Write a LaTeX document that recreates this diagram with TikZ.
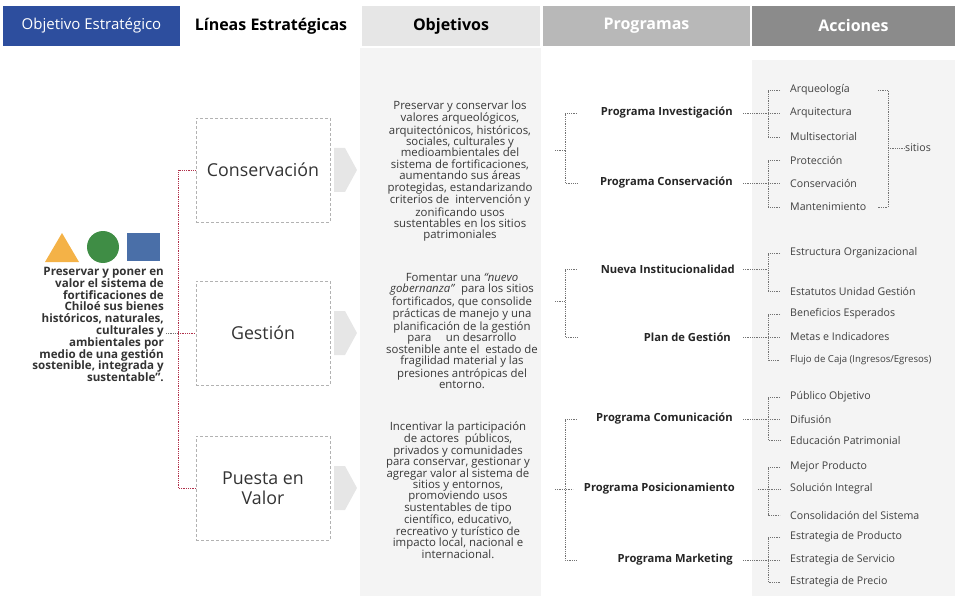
\documentclass[tikz,border=0pt]{standalone}
\usepackage{fontspec}
\setmainfont{Open Sans}
\usetikzlibrary{positioning}
\definecolor{azul}{HTML}{2D4E9E}
\definecolor{naranja}{HTML}{F4B247}
\definecolor{verde}{HTML}{3F8D45}
\definecolor{azulcuadro}{HTML}{4A6FA8}
\definecolor{grisA}{HTML}{E6E6E6}
\definecolor{grisB}{HTML}{B8B8B8}
\definecolor{grisC}{HTML}{8B8B8B}
\definecolor{fondo}{HTML}{F4F4F4}
\definecolor{rojo}{HTML}{B0304A}

\begin{document}
\begin{tikzpicture}[x=1pt,y=-1pt,
  head/.style={minimum width=#1, minimum height=40pt, inner sep=0pt, font=\fontsize{15}{16}\selectfont},
  linea/.style={draw=gray!60, densely dashed, thick, minimum width=134pt, minimum height=104pt,
                font=\fontsize{17.8}{20}\selectfont, text=black!80, align=center},
  obj/.style={align=center, inner sep=0pt, font=\fontsize{11.4}{11.4}\selectfont, text=black!78},
  prog/.style={anchor=east, inner sep=0pt, font=\bfseries\fontsize{11.2}{12}\selectfont, text=black!85},
  acc/.style={anchor=west, inner sep=0pt, font=\fontsize{10.6}{11}\selectfont, text=black!75},
  brk/.style={densely dotted, thick, black!55},
  roja/.style={densely dotted, thick, rojo}]
  \useasboundingbox (0,0) rectangle (955,596);

  % fondos de columna
  \fill[fondo] (360,48) rectangle (541,596);
  \fill[fondo] (752,60) rectangle (955,596);

  % cabecera
  \node[head=177, fill=azul, text=white] (h1) at (91.5,26) {Objetivo Estratégico};
  \node[head=178, fill=white, font=\bfseries\fontsize{16}{17}\selectfont] (h2) at (271,26) {Líneas Estratégicas};
  \node[head=178, fill=grisA, font=\bfseries\fontsize{16}{17}\selectfont] (h3) at (451,26) {Objetivos};
  \node[head=207, fill=grisB, text=white, font=\bfseries\fontsize{16}{17}\selectfont] (h4) at (646.5,26) {Programas};
  \node[head=203, fill=grisC, text=white, font=\bfseries\fontsize{16}{17}\selectfont] (h5) at (853.5,26) {Acciones};

  % objetivo estrategico
  \fill[naranja] (45,262) -- (62,233) -- (79,262) -- cycle;
  \fill[verde] (103,247) circle (16);
  \fill[azulcuadro] (127,233) rectangle (160,261);
  \node[anchor=north east, align=right, inner sep=0pt, text=black!80,
        font=\bfseries\fontsize{11.6}{11.8}\selectfont] (estr) at (164,267)
    {Preservar y poner en\\ valor el sistema de\\ fortificaciones de\\ Chiloé sus bienes\\
     históricos, naturales,\\ culturales y\\ ambientales por\\ medio de una gestión\\
     sostenible, integrada y\\ sustentable”.};

  % lineas estrategicas
  \node[linea] (cons)   at (263,170) {Conservación};
  \node[linea] (gest)   at (263,333) {Gestión};
  \node[linea] (puesta) at (263,488) {Puesta en\\ Valor};

  \coordinate (rx) at (178,0);
  \draw[roja] (cons.west) -| (rx |- puesta) -- (puesta.west);
  \draw[roja] (rx |- gest) -- (gest.west);
  \draw[brk] ([xshift=2pt]estr.east |- gest) -- (rx |- gest);

  % flechas
  \foreach \y in {170,333,488}
    \fill[grisA] (334,\y-22) -- (345,\y-22) -- (357,\y) -- (345,\y+22) -- (334,\y+22) -- cycle;

  % objetivos
  \node[obj] (obj1) at (460,171)
    {Preservar y conservar los\\ valores arqueológicos,\\ arquitectónicos, históricos,\\ sociales, culturales y\\
     medioambientales del\\ sistema de fortificaciones,\\ aumentando sus áreas\\ protegidas, estandarizando\\
     criterios de \ intervención y\\ zonificando usos\\ sustentables en los sitios\\ patrimoniales};
  \node[obj] (obj2) at (462,331)
    {Fomentar una \textit{“nuevo}\\ \textit{gobernanza”} \ para los sitios\\ fortificados, que consolide\\
     prácticas de manejo y una\\ planificación de la gestión\\ para \quad un desarrollo\\
     sostenible ante el \ estado de\\ fragilidad material y las\\ presiones antrópicas del\\ entorno.};
  \node[obj] (obj3) at (458,490)
    {Incentivar la participación\\ de actores \ públicos,\\ privados y comunidades\\ para conservar, gestionar y\\
     agregar valor al sistema de\\ sitios y entornos,\\ promoviendo usos\\ sustentables de tipo\\
     científico, educativo,\\ recreativo y turístico de\\ impacto local, nacional e\\ internacional.};

  % programas
  \node[prog] (pinv) at (733,113) {Programa Investigación};
  \node[prog] (pcon) at (733,183) {Programa Conservación};
  \node[prog] (pni)  at (735,269) {Nueva Institucionalidad};
  \node[prog] (pges) at (731,337) {Plan de Gestión};
  \node[prog] (pcom) at (733,419) {Programa Comunicación};
  \node[prog] (ppos) at (735,489) {Programa Posicionamiento};
  \node[prog] (pmar) at (733,560) {Programa Marketing};

  \coordinate (bx) at (565,0);
  \draw[brk] (bx |- pinv) ++(12,0) -- (bx |- pinv) -- (bx |- pcon) -- ++(12,0);
  \draw[brk] (bx |- 0,150) ++(-10,0) -- ++(10,0);
  \draw[brk] (bx |- pni) ++(12,0) -- (bx |- pni) -- (bx |- pges) -- ++(12,0);
  \draw[brk] (bx |- 0,301) ++(-10,0) -- ++(10,0);
  \draw[brk] (bx |- pcom) ++(12,0) -- (bx |- pcom) -- (bx |- pmar) -- ++(12,0);
  \draw[brk] (bx |- ppos) ++(-10,0) -- ++(18,0);

  % acciones
  \node[acc] (arq)  at (790,90)  {Arqueología};
  \node[acc] (arqt) at (790,113) {Arquitectura};
  \node[acc] (mul)  at (790,137) {Multisectorial};
  \node[acc] (pro)  at (790,160) {Protección};
  \node[acc] (cns)  at (790,183) {Conservación};
  \node[acc] (man)  at (790,207) {Mantenimiento};
  \node[acc] (sit)  at (905,148) {sitios};

  \node[acc] (eorg) at (790,253) {Estructura Organizacional};
  \node[acc] (eest) at (790,291) {Estatutos Unidad Gestión};
  \node[acc] (bene) at (790,314) {Beneficios Esperados};
  \node[acc] (meta) at (790,337) {Metas e Indicadores};
  \node[acc, font=\fontsize{9.6}{11}\selectfont] (fluj) at (790,360) {Flujo de Caja (Ingresos/Egresos)};

  \node[acc] (publ) at (790,397) {Público Objetivo};
  \node[acc] (difu) at (790,419) {Difusión};
  \node[acc] (educ) at (790,440) {Educación Patrimonial};
  \node[acc] (mejo) at (790,467) {Mejor Producto};
  \node[acc] (solu) at (790,489) {Solución Integral};
  \node[acc] (cnso) at (790,515) {Consolidación del Sistema};
  \node[acc] (eprd) at (790,537) {Estrategia de Producto};
  \node[acc] (eser) at (790,560) {Estrategia de Servicio};
  \node[acc] (epre) at (790,582) {Estrategia de Precio};

  \coordinate (ax) at (768,0);
  \draw[brk] ([xshift=-10pt]arq.west) -| (ax |- mul) -- ([xshift=-10pt]mul.west);
  \draw[brk] ([xshift=10pt]pinv.east) -- ([xshift=-10pt]arqt.west);
  \draw[brk] ([xshift=-10pt]pro.west) -| (ax |- man) -- ([xshift=-10pt]man.west);
  \draw[brk] ([xshift=10pt]pcon.east) -- ([xshift=-10pt]cns.west);

  \draw[brk] ([xshift=-10pt]eorg.west) -| (ax |- eest) -- ([xshift=-10pt]eest.west);
  \draw[brk] ([xshift=8pt]pni.east) -- (ax |- pni);
  \draw[brk] ([xshift=-10pt]bene.west) -| (ax |- fluj) -- ([xshift=-10pt]fluj.west);
  \draw[brk] ([xshift=12pt]pges.east) -- ([xshift=-10pt]meta.west);

  \draw[brk] ([xshift=-10pt]publ.west) -| (ax |- educ) -- ([xshift=-10pt]educ.west);
  \draw[brk] ([xshift=10pt]pcom.east) -- ([xshift=-10pt]difu.west);
  \draw[brk] ([xshift=-10pt]mejo.west) -| (ax |- cnso) -- ([xshift=-10pt]cnso.west);
  \draw[brk] (ax |- solu) ++(-10,0) -- ([xshift=-10pt]solu.west);
  \draw[brk] ([xshift=-10pt]eprd.west) -| (ax |- epre) -- ([xshift=-10pt]epre.west);
  \draw[brk] ([xshift=10pt]pmar.east) -- ([xshift=-10pt]eser.west);

  % sitios
  \coordinate (sx) at (888,0);
  \draw[brk] (sx |- arq) ++(-10,0) -- (sx |- arq) -- (sx |- man) -- ++(-10,0);
  \draw[brk] (sx |- sit) -- (sit.west);
\end{tikzpicture}
\end{document}
